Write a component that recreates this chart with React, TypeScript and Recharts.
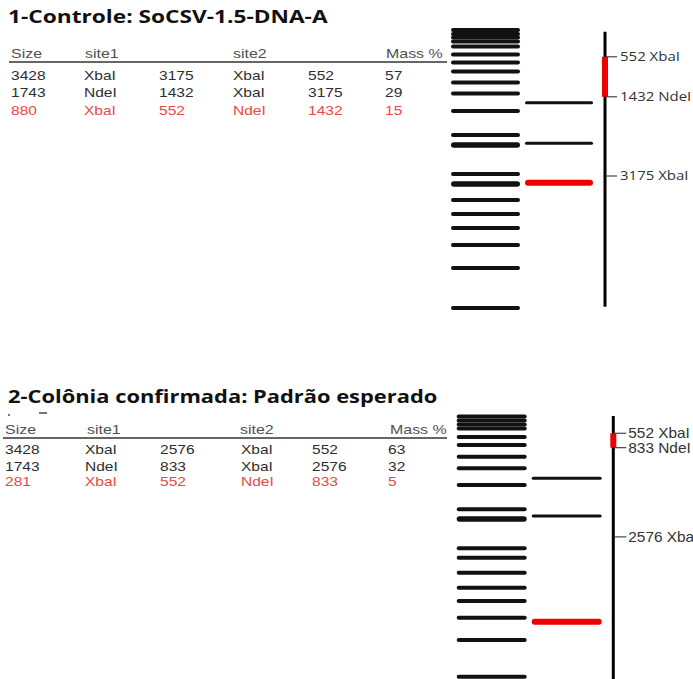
import React from 'react';
import { ComposedChart, Scatter, XAxis, YAxis, ReferenceLine } from 'recharts';

// Panel 1 — control: SoCSV-1.5-DNA-A
const controlSize = [3428, 1743, 880];
const controlSite1 = ['XbaI', 'NdeI', 'XbaI'];
const controlPos1 = [3175, 1432, 552];
const controlSite2 = ['XbaI', 'XbaI', 'NdeI'];
const controlPos2 = [552, 3175, 1432];
const controlMass = [57, 29, 15];
// band migration (px from the top of the panel)
const controlLadder = [10, 14, 17.5, 21.5, 26.5, 34.5, 42.5, 51.5, 62.5, 73.5, 91, 115, 125, 154, 164, 180, 194, 208, 225, 248, 288];
const controlLadderBright = [12, 14];
const controlLane = [82.7, 123.3, 162.7];
const controlMapBp = [552, 1432, 3175];
const controlMapEnz = ['XbaI', 'NdeI', 'XbaI'];

// Panel 2 — confirmed colony
const colonySize = [3428, 1743, 281];
const colonySite1 = ['XbaI', 'NdeI', 'XbaI'];
const colonyPos1 = [2576, 833, 552];
const colonySite2 = ['XbaI', 'XbaI', 'NdeI'];
const colonyPos2 = [552, 2576, 833];
const colonyMass = [63, 32, 5];
const colonyLadder = [16.5, 20.5, 24.5, 28.5, 37, 45, 56.7, 68.3, 85, 109.3, 119, 148.3, 157.7, 172.7, 187.7, 201, 217.7, 240, 276.7];
const colonyLadderBright = [10];
const colonyLane = [78.3, 116, 221.7];
const colonyMapBp = [552, 833, 2576];
const colonyMapEnz = ['XbaI', 'NdeI', 'XbaI'];

const headers = ['Size', 'site1', 'site2', 'Mass %'];

const TEXT = '#2e2e2e';
const RED_TEXT = '#e84848';
const RED = '#ee0000';
const ARIAL = '"Liberation Sans", Arial, sans-serif';
const TITLE_FONT = '"Open Sans", sans-serif';

const gel1 = {
  top: 20, height: 300, ladderX: 45.5, ladderW: 69, laneX: 119, laneW: 68, mapX: 165,
  mapDomain: [-257, 6343], mapFrom: 0, tickLen: 12, gap: 3,
  labelSize: 12, labelStretch: 1.25, labelFont: '"Open Sans", sans-serif',
};
const gel2 = {
  top: 400, height: 279, ladderX: 51.7, ladderW: 70, laneX: 126.7, laneW: 70, mapX: 173.3,
  mapDomain: [-98, 5352], mapFrom: 215, tickLen: 13, gap: 2,
  labelSize: 14, labelStretch: 1.1, labelFont: ARIAL,
};
const table1 = {
  titleY: 16, titleStretch: 1.26, headY: 54, ruleY: 62, ruleX: [9, 447],
  rowY: [75.5, 93, 111], colX: [11, 84, 159, 233, 308, 385], headX: [11, 85, 233, 386],
};
const table2 = {
  titleY: 395.5, titleStretch: 1.215, headY: 429.5, ruleY: 437.5, ruleX: [3, 447],
  rowY: [450, 466.7, 482], colX: [5, 85, 160, 241, 312, 388], headX: [5, 87, 240, 390],
};

function Txt({ x, y, size, color = TEXT, weight = 400, family = ARIAL, stretch = 1.2, children }: any) {
  const lh = Math.round(size * 1.2);
  return (
    <span
      style={{
        position: 'absolute', left: x, top: y - lh / 2, height: lh, lineHeight: `${lh}px`,
        fontSize: size, fontFamily: family, fontWeight: weight, color, whiteSpace: 'nowrap',
        transform: `scaleX(${stretch})`, transformOrigin: '0 50%',
      }}
    >
      {children}
    </span>
  );
}

function Table({ t, title, size, site1, pos1, site2, pos2, mass, redRow }: any) {
  return (
    <>
      <Txt x={8} y={t.titleY} size={18} weight={700} family={TITLE_FONT} color="#111" stretch={t.titleStretch}>
        {title}
      </Txt>
      {headers.map((h, i) => (
        <Txt key={h} x={t.headX[i]} y={t.headY} size={13.5} color="#505050" stretch={1.18}>{h}</Txt>
      ))}
      <div
        style={{
          position: 'absolute', left: t.ruleX[0], top: t.ruleY - 1, width: t.ruleX[1] - t.ruleX[0],
          height: 2, background: '#666',
        }}
      />
      {size.map((s: number, r: number) => {
        const cells = [s, site1[r], pos1[r], site2[r], pos2[r], mass[r]];
        const color = r === redRow ? RED_TEXT : TEXT;
        return cells.map((c, i) => (
          <Txt key={`${r}-${i}`} x={t.colX[i]} y={t.rowY[r]} size={13.5} color={color} stretch={1.15}>{c}</Txt>
        ));
      })}
    </>
  );
}

function Gel({ g, ladder, bright, lane, sizes, redRow, mapBp, mapEnz, redFrom, redTo, length }: any) {
  const ladderData = ladder.map((y: number, i: number) => ({ x: g.ladderX, y, bright: bright.includes(i) }));
  const laneData = lane.map((y: number, i: number) => ({ x: g.laneX, y, size: sizes[i], red: i === redRow }));
  const siteData = mapBp.map((bp: number, i: number) => ({ x: g.mapX, bp, label: `${bp} ${mapEnz[i]}` }));

  const ladderShape = (p: any) => {
    const t = p.payload.bright ? 5.5 : 4;
    return (
      <line x1={p.cx - g.ladderW / 2 + t / 2} x2={p.cx + g.ladderW / 2 - t / 2} y1={p.cy} y2={p.cy}
        stroke="#111" strokeWidth={t} strokeLinecap="round" />
    );
  };
  const laneShape = (p: any) => {
    const t = p.payload.red ? 6 : 3;
    return (
      <line x1={p.cx - g.laneW / 2 + t / 2} x2={p.cx + g.laneW / 2 - t / 2} y1={p.cy} y2={p.cy}
        stroke={p.payload.red ? RED : '#111'} strokeWidth={t} strokeLinecap="round" />
    );
  };
  const siteShape = (p: any) => (
    <g>
      <line x1={p.cx + 1.5} x2={p.cx + g.tickLen} y1={p.cy} y2={p.cy} stroke="#444" strokeWidth={1.2} />
      <text
        transform={`translate(${p.cx + g.tickLen + g.gap},${p.cy}) scale(${g.labelStretch},1)`}
        dy="0.35em" fontSize={g.labelSize} fontFamily={g.labelFont} fill="#333"
      >
        {p.payload.label}
      </text>
    </g>
  );

  return (
    <div style={{ position: 'absolute', left: 440, top: g.top }}>
      <ComposedChart width={253} height={g.height} margin={{ top: 0, right: 0, bottom: 0, left: 0 }}>
        <XAxis type="number" dataKey="x" domain={[0, 253]} hide allowDataOverflow />
        <YAxis yAxisId="gel" type="number" dataKey="y" domain={[0, g.height]} reversed hide allowDataOverflow />
        <YAxis yAxisId="map" type="number" dataKey="bp" domain={g.mapDomain} reversed hide allowDataOverflow />
        <ReferenceLine yAxisId="map" segment={[{ x: g.mapX, y: g.mapFrom }, { x: g.mapX, y: length }]}
          stroke="#000" strokeWidth={3} ifOverflow="visible" />
        <ReferenceLine yAxisId="map" segment={[{ x: g.mapX, y: redFrom }, { x: g.mapX, y: redTo }]}
          stroke={RED} strokeWidth={6} ifOverflow="visible" />
        <Scatter yAxisId="gel" data={ladderData} shape={ladderShape} isAnimationActive={false} />
        <Scatter yAxisId="gel" data={laneData} shape={laneShape} isAnimationActive={false} />
        <Scatter yAxisId="map" data={siteData} shape={siteShape} isAnimationActive={false} />
      </ComposedChart>
    </div>
  );
}

const sum = (a: number[]) => a.reduce((s, v) => s + v, 0);

export default function App() {
  return (
    <div style={{ position: 'absolute', left: 0, top: 0, width: 693, height: 679, background: '#fff', overflow: 'hidden' }}>
      <Table t={table1} title="1-Controle: SoCSV-1.5-DNA-A" size={controlSize} site1={controlSite1}
        pos1={controlPos1} site2={controlSite2} pos2={controlPos2} mass={controlMass} redRow={2} />
      <Gel g={gel1} ladder={controlLadder} bright={controlLadderBright} lane={controlLane} sizes={controlSize}
        redRow={2} mapBp={controlMapBp} mapEnz={controlMapEnz} redFrom={controlPos1[2]} redTo={controlPos2[2]}
        length={sum(controlSize)} />

      <Table t={table2} title="2-Colônia confirmada: Padrão esperado" size={colonySize} site1={colonySite1}
        pos1={colonyPos1} site2={colonySite2} pos2={colonyPos2} mass={colonyMass} redRow={2} />
      {/* stray marks above the second header */}
      <div style={{ position: 'absolute', left: 8, top: 414, width: 2, height: 2, background: '#777' }} />
      <div style={{ position: 'absolute', left: 39, top: 412, width: 8, height: 1.5, background: '#777' }} />
      <Gel g={gel2} ladder={colonyLadder} bright={colonyLadderBright} lane={colonyLane} sizes={colonySize}
        redRow={2} mapBp={colonyMapBp} mapEnz={colonyMapEnz} redFrom={colonyPos1[2]} redTo={colonyPos2[2]}
        length={sum(colonySize)} />
    </div>
  );
}
